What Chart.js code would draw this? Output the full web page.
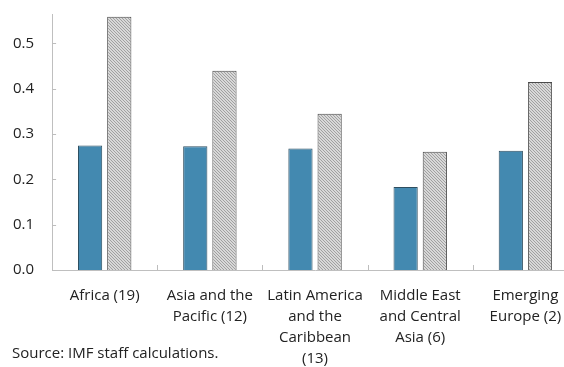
<!DOCTYPE html>
<html>
<head>
<meta charset="utf-8">
<script src="https://cdn.jsdelivr.net/npm/chart.js@4"></script>
<style>
  html, body { margin: 0; padding: 0; background: #fff; overflow: hidden; width: 564px; height: 367px; }
  #wrap { position: absolute; left: 0; top: -5px; width: 592px; height: 381px; }
  #source { position: absolute; left: 12px; top: 342px; font: 15px "Open Sans", sans-serif; color: #222; }
</style>
</head>
<body>
<div id="wrap"><canvas id="chart"></canvas></div>
<div id="source">Source: IMF staff calculations.</div>
<script>
// regions and the two series
const categories = [
    ['Africa (19)'],
    ['Asia and the', 'Pacific (12)'],
    ['Latin America', 'and the', 'Caribbean', '(13)'],
    ['Middle East', 'and Central', 'Asia (6)'],
    ['Emerging', 'Europe (2)']
];
const seriesSolid = [0.275, 0.273, 0.268, 0.183, 0.263];
const seriesHatched = [0.559, 0.440, 0.345, 0.261, 0.415];
const yTicks = [0.0, 0.1, 0.2, 0.3, 0.4, 0.5];

// hatch pattern for the second series
function makeHatch() {
    const c = document.createElement('canvas');
    c.width = 3; c.height = 3;
    const g = c.getContext('2d');
    g.fillStyle = '#d8d8d8';
    g.fillRect(0, 0, 3, 3);
    g.fillStyle = '#a0a0a0';
    // one-pixel diagonal, repeats every 3px
    g.fillRect(0, 0, 1, 1);
    g.fillRect(1, 1, 1, 1);
    g.fillRect(2, 2, 1, 1);
    return g.createPattern(c, 'repeat');
}

// small tick marks drawn inside the plot, like the original
const innerTicks = {
    id: 'innerTicks',
    afterDraw(chart) {
        const { ctx, scales: { x, y } } = chart;
        ctx.save();
        ctx.strokeStyle = '#bdbdbd';
        ctx.lineWidth = 1;
        ctx.beginPath();
        yTicks.forEach(v => {
            const py = Math.round(y.getPixelForValue(v)) + 0.5;
            ctx.moveTo(x.left, py); ctx.lineTo(x.left + 4, py);
        });
        for (let i = 1; i < categories.length; i++) {
            const px = Math.round((x.getPixelForValue(i - 1) + x.getPixelForValue(i)) / 2) + 0.5;
            ctx.moveTo(px, y.bottom); ctx.lineTo(px, y.bottom - 5);
        }
        ctx.stroke();
        ctx.restore();
    }
};

new Chart(document.getElementById('chart'), {
    type: 'bar',
    data: {
        labels: categories,
        datasets: [{
            data: seriesSolid,
            backgroundColor: '#4389b0',
            borderColor: '#2e4e60',
            borderWidth: 1
        }, {
            data: seriesHatched,
            backgroundColor: makeHatch(),
            borderColor: '#4a4a4a',
            borderWidth: 1
        }]
    },
    options: {
        responsive: true,
        maintainAspectRatio: false,
        animation: false,
        categoryPercentage: 0.555,
        barPercentage: 0.83,
        layout: { padding: { top: 0, right: 14, left: 3, bottom: 0 } },
        plugins: { legend: { display: false }, tooltip: { enabled: false } },
        scales: {
            x: {
                grid: { display: false },
                border: { display: true, color: '#bfbfbf', width: 1 },
                ticks: {
                    color: '#222',
                    padding: 7,
                    maxRotation: 0,
                    autoSkip: false,
                    font: { family: 'Open Sans', size: 15, lineHeight: 1.4 }
                }
            },
            y: {
                min: 0,
                max: 0.565,
                grid: { display: false },
                border: { display: true, color: '#bfbfbf', width: 1 },
                afterBuildTicks: s => { s.ticks = yTicks.map(v => ({ value: v })); },
                ticks: {
                    color: '#222',
                    padding: 10,
                    font: { family: 'Open Sans', size: 15 },
                    callback: v => v.toFixed(1)
                }
            }
        }
    },
    plugins: [innerTicks]
});
</script>
</body>
</html>
